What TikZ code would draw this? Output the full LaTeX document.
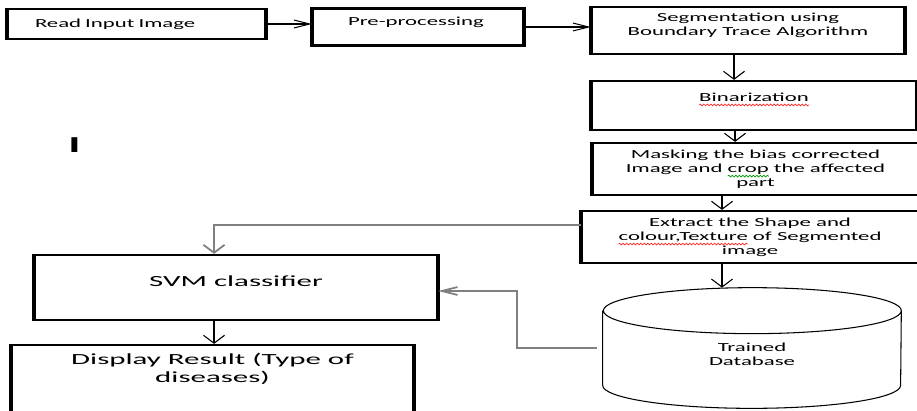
\documentclass[tikz,border=0pt]{standalone}
\usepackage{fontspec}
\setmainfont[FakeStretch=1.85]{Carlito}
\newfontfamily\bigfont[FakeStretch=2]{Carlito}
\usetikzlibrary{arrows.meta,decorations.pathmorphing}

\tikzset{
  blk/.style={draw, line width=1.3pt, align=center, inner sep=0pt,
    font=\fontsize{7pt}{8pt}\selectfont},
  bigblk/.style={blk, font=\bigfont\fontsize{8.8pt}{10.3pt}\selectfont},
  harr/.style={-{Straight Barb[length=9pt,width=4.5pt]}, line width=0.6pt},
  varr/.style={-{Straight Barb[length=4.5pt,width=12pt]}, line width=0.6pt},
  feed/.style={draw=gray, line width=1pt},
  wave/.style={decorate, decoration={snake, amplitude=0.5pt, segment length=2pt}, line width=0.4pt}
}

% word with a wavy spell-check line under it
\newlength\squiglen
\newcommand\squig[2]{\settowidth{\squiglen}{#2}%
  \rlap{\tikz[overlay, baseline=0pt, x=1pt, y=1pt]
    \draw[wave, #1] (0,-2.2) -- (\squiglen,-2.2);}#2}

\begin{document}
\begin{tikzpicture}[x=0.02cm, y=-0.02cm]
\useasboundingbox (0,0) rectangle (917,410);
\clip (0,0) rectangle (917,410);

% top row
\node[blk, minimum width=5.14cm, minimum height=0.6cm, text width=4.06cm,
  align=left, inner xsep=0.54cm] (read) at (136.5,24) {Read Input Image};
\node[blk, minimum width=4.2cm, minimum height=0.74cm, text width=2.8cm,
  align=left, inner xsep=0.7cm, text height=5pt, text depth=7.2pt] (pre) at (418,27) {Pre-processing};
\node[blk, minimum width=6.24cm, minimum height=0.94cm, text depth=6.7pt] (seg) at (748,30.5)
  {Segmentation using\\Boundary Trace Algorithm};

% right column
\node[blk, minimum width=6.48cm, minimum height=0.98cm, text height=5pt, text depth=10pt] (bin) at (754,105.5)
  {\squig{red!85}{Binarization}};
\node[blk, minimum width=6.5cm, minimum height=1.04cm] (mask) at (755.5,169)
  {Masking the bias corrected\\Image and \squig{green!60!black}{crop} the affected\\part};
\node[blk, minimum width=6.72cm, minimum height=1.04cm] (extract) at (750,237)
  {Extract the Shape and\\\squig{red!85}{colour,Texture} of Segmented\\image};

% database drum
\node[minimum width=5.96cm, minimum height=2.4cm, inner sep=0pt] (base) at (752,348) {};
\draw[line width=0.6pt] ([yshift=-0.46cm]base.north west) -- ([yshift=0.46cm]base.south west)
  arc[start angle=180, end angle=360, x radius=2.98cm, y radius=0.46cm]
  -- ([yshift=-0.46cm]base.north east)
  arc[start angle=0, end angle=360, x radius=2.98cm, y radius=0.46cm];
\node[align=center, inner sep=0pt, font=\fontsize{7pt}{8pt}\selectfont] (baselabel) at (752,354)
  {Trained\\Database};

% left column
\node[bigblk, minimum width=8.04cm, minimum height=1.3cm, text height=6.2pt, text depth=7.6pt] (svm) at (236,287.5)
  {SVM classifier};
\node[bigblk, minimum width=8.02cm, minimum height=1.5cm, text depth=16.5pt] (display) at (212.5,382.5)
  {Display Result (Type of\\diseases)};

\node[font=\bigfont\fontsize{13pt}{13pt}\selectfont\bfseries] (mark) at (74.5,145.5) {I};

% heavier side edges
\foreach \b in {read,pre,seg,bin,mask,extract,svm,display}
  \draw[line width=2.4pt] (\b.north west) -- (\b.south west) (\b.north east) -- (\b.south east);

% flow
\draw[harr] (read.east) -- (read.east -| pre.west);
\draw[harr] (pre.east) -- (pre.east -| seg.west);
\draw[varr] ([xshift=-0.28cm]seg.south) -- ([xshift=-0.28cm]seg.south |- bin.north);
\draw[varr] ([xshift=-0.38cm]bin.south) -- ([xshift=-0.38cm]bin.south |- mask.north);
\draw[varr] ([xshift=-0.6cm]base.north |- mask.south) -- ([xshift=-0.6cm]base.north |- extract.north);
\draw[varr] ([xshift=-0.6cm]base.north |- extract.south) -- ([xshift=-0.6cm]base.north);
\draw[varr, feed] ([yshift=0.24cm]extract.west) -| ([xshift=-0.44cm]svm.north);
\draw[harr, feed] ([xshift=-0.12cm]base.west) -- ++(-1.6cm,0) |- ([yshift=-0.07cm]svm.east);
\draw[varr] ([xshift=-0.44cm]svm.south) -- ([xshift=-0.44cm]svm.south |- display.north);
\end{tikzpicture}
\end{document}
